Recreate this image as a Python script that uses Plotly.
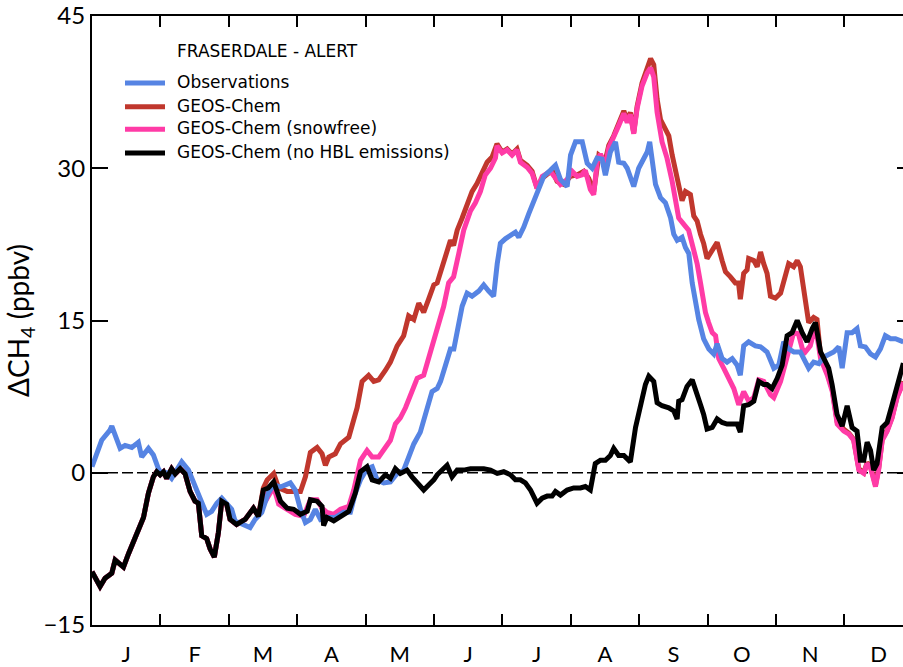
import plotly.graph_objects as go

# ---------------------------------------------------------------
# Daily CH4 enhancement, Fraserdale minus Alert (ppbv)
# x values are day of year; months are drawn as 12 equal bins
# ---------------------------------------------------------------
DAYS_PER_MONTH = 365.0 / 12.0
month_labels = ["J", "F", "M", "A", "M", "J", "J", "A", "S", "O", "N", "D"]
y_ticks = [-15, 0, 15, 30, 45]

# Observations
obs_day = [0, 4.3, 8.0, 8.8, 12.5, 14.7, 17.7, 20.6, 22.1, 25.1, 27.3, 29.5, 31.0, 33.1,
           35.4, 37.5, 39.9, 42.9, 45.8, 48.8, 51.0, 53.2, 55.5, 57.7, 59.9, 62.1, 63.6,
           66.6, 70.3, 72.5, 75.5, 78.4, 80.8, 83.8, 88.2, 90.4, 92.7, 94.9, 97.1, 99.3,
           101.6, 104.5, 108.2, 111.9, 114.9, 117.1, 119.4, 122.3, 124.6, 126.8, 129.7,
           132.7, 135.7, 138.6, 140.8, 143.1, 146.0, 148.3, 149.7, 151.2, 153.5, 155.0,
           157.2, 159.4, 160.9, 163.1, 164.6, 166.8, 169.0, 172.0, 174.2, 176.4, 178.6,
           180.2, 181.6, 183.8, 186.1, 188.3, 189.8, 192.0, 194.2, 196.4, 198.6, 200.9,
           203.8, 206.1, 208.3, 211.3, 212.8, 215.0, 218.0, 220.2, 222.4, 224.6, 226.8,
           228.3, 230.5, 232.8, 234.2, 236.5, 238.0, 239.4, 240.9, 243.1, 245.4, 246.9,
           248.0, 249.1, 250.6, 252.8, 255.0, 257.3, 258.7, 260.2, 262.4, 263.9, 265.4,
           266.9, 268.4, 269.8, 272.0, 274.3, 276.5, 278.0, 280.2, 282.4, 284.7, 286.9,
           288.3, 289.8, 292.0, 295.0, 297.3, 300.2, 303.2, 305.4, 307.6, 309.8, 312.1,
           315.0, 316.5, 318.7, 320.9, 323.2, 325.4, 327.6, 329.8, 332.1, 333.6, 335.8,
           338.0, 340.2, 341.7, 343.9, 346.2, 348.4, 350.6, 352.8, 355.1, 357.3, 359.5,
           360.8]
obs_val = [0.6, 3.2, 4.2, 4.6, 2.4, 2.7, 2.5, 3.0, 1.55, 2.4, 1.75, 0.4, -0.1, 0.0,
           -0.55, 0.2, 1.07, 0.26, -1.36, -3.0, -4.1, -3.8, -3.0, -2.5, -3.0, -3.6, -4.75,
           -5.1, -5.4, -4.6, -3.9, -2.0, -1.2, -1.4, -1.0, -1.7, -3.6, -4.9, -4.6, -3.6,
           -4.6, -4.4, -4.4, -3.9, -3.9, -2.0, -0.7, 0.4, 0.6, -0.7, -1.0,
           -0.9, -0.07, 0.26, 1.55, 2.84, 4.0, 5.75, 7.05, 8.0, 8.3, 9.0,
           10.6, 12.2, 12.2, 14.5, 16.4, 17.7, 17.4, 17.9, 18.5, 17.9, 17.4,
           20.6, 22.6, 23.05, 23.4, 23.7, 23.2, 24.2, 25.5, 26.8, 27.9, 29.2,
           29.8, 30.3, 28.9, 28.2, 31.3, 32.6, 32.6, 30.5, 30.0, 31.0, 30.9,
           29.3, 31.6, 32.6, 30.6, 30.5, 30.0, 29.0, 28.2, 30.0, 31.0, 31.6,
           32.6, 31.0, 28.4, 27.1, 26.6, 25.1, 23.5, 22.9, 23.2, 22.2, 21.6,
           18.7, 16.4, 15.1, 13.2, 12.2, 11.7, 12.7, 11.25, 10.9, 11.25, 10.6,
           9.6, 12.5, 12.9, 12.5, 12.4, 11.9, 10.3, 10.6, 12.9, 12.2, 11.9,
           11.9, 11.25, 10.3, 10.9, 10.75, 11.4, 11.7, 11.9, 12.4, 10.3, 13.8,
           13.8, 14.2, 12.5, 12.4, 11.7, 11.4, 12.2, 13.5, 13.2, 13.2, 13.0,
           12.9]

# Model runs coincide during winter (before snowmelt emissions start)
winter_day = [0, 3.6, 5.8, 8.8, 10.3, 14.0, 16.2, 19.2, 22.9, 25.1, 27.3, 28.8, 30.3,
              31.8, 33.2, 35.4, 37.0, 39.2, 41.4, 43.6, 45.8, 47.3, 48.8, 51.0, 52.5,
              54.4, 56.2, 57.7, 59.9, 61.4, 64.3, 68.1, 71.8, 74.0]
winter_val = [-9.76, -11.2, -10.4, -9.9, -8.6, -9.3, -8.0, -6.5, -4.4, -2.0, -0.4, 0.1,
              -0.2, 0.1, -0.55, 0.4, -0.1, 0.4, -0.1, -1.84, -2.8, -3.0, -6.2, -6.5, -7.5,
              -8.3, -5.9, -2.8, -3.1, -4.6, -5.1, -4.6, -3.5, -4.3]

# GEOS-Chem (standard)
gc_day = [76.2, 77.9, 80.8, 83.0, 86.8, 89.7, 92.7, 94.9, 97.1, 100.1, 102.3, 103.8,
          105.3, 108.2, 110.5, 114.2, 116.4, 117.9, 120.1, 123.0, 125.3, 127.5, 130.5,
          132.7, 135.7, 138.6, 140.8, 143.1, 145.3, 147.5, 149.7, 152.0, 153.5, 156.4,
          157.9, 159.4, 160.8, 162.4, 164.6, 166.8, 169.0, 171.2, 173.5, 175.7, 177.9,
          180.1, 182.4, 184.6, 186.8, 189.0, 190.5, 193.5, 195.7, 197.9, 200.2, 202.4,
          204.6, 206.8, 209.8, 212.7, 215.7, 218.7, 220.9, 223.1, 225.4, 228.3, 229.8,
          232.0, 234.2, 236.5, 238.0, 239.4, 240.9, 242.4, 244.6, 246.9, 248.4, 249.8,
          251.3, 252.8, 255.0, 256.5, 258.0, 259.4, 260.9, 262.4, 263.9, 266.1, 267.6,
          269.1, 270.6, 272.0, 273.5, 275.8, 278.0, 280.2, 281.7, 283.9, 286.1, 287.5,
          288.3, 289.8, 291.3, 292.0, 294.3, 295.8, 297.3, 298.7, 300.2, 301.7, 303.9,
          306.2, 308.4, 309.8, 312.0, 313.6, 315.0, 316.5, 318.7, 320.9, 322.4, 324.0,
          327.0, 329.2, 331.4, 334.3, 336.6, 338.7, 341.0, 343.2, 344.7, 346.2, 348.4,
          349.8, 351.4, 353.6, 355.8, 358.0, 360.3, 360.8]
gc_val = [-1.5, -0.7, -0.07, -1.5, -1.84, -1.84, -1.84, -0.4, 2.0, 2.5, 1.87, 0.74,
          1.55, 1.87, 2.84, 3.5, 5.1, 6.4, 9.0, 9.6, 9.0, 9.15, 10.1,
          10.9, 12.5, 13.5, 15.45, 15.1, 16.7, 15.8, 17.1, 18.5, 18.7, 20.9,
          22.1, 22.9, 22.4, 23.9, 25.1, 26.5, 27.7, 28.5, 29.7, 30.6, 31.1,
          32.4, 31.6, 31.9, 31.4, 31.9, 30.8, 30.3, 29.7, 28.05, 29.0, 29.35,
          29.8, 28.7, 28.4, 29.2, 29.35, 29.7, 29.0, 27.7, 31.3, 30.8, 32.25,
          33.2, 34.35, 35.65, 34.7, 35.5, 33.5, 36.1, 38.4, 40.0, 40.8, 40.2,
          36.8, 34.8, 33.9, 33.2, 31.3, 30.0, 28.7, 26.8, 27.7, 27.4, 25.3,
          24.8, 23.5, 22.6, 21.1, 21.9, 22.7, 20.9, 19.8, 19.3, 18.7, 18.7,
          17.1, 19.65, 20.0, 21.1, 20.9, 20.3, 21.75, 20.6, 19.65, 17.4, 17.2,
          17.7, 19.3, 20.6, 20.3, 20.9, 20.3, 17.7, 14.8, 15.3, 15.1, 11.5,
          9.8, 8.2, 5.0, 4.3, 3.9, 3.3, 0.4, 0.0, 1.0, 0.6, -1.2,
          0.4, 3.3, 4.2, 5.5, 7.5, 8.8, 9.0]

# GEOS-Chem (snowfree)
sf_day = [76.2, 77.9, 80.8, 83.0, 86.8, 90.4, 94.1, 97.1, 100.1, 102.3, 104.5, 107.5,
          110.5, 114.2, 116.4, 119.4, 122.3, 124.6, 127.5, 129.7, 132.7, 134.9, 137.1,
          139.4, 142.3, 144.6, 147.5, 149.7, 152.0, 153.5, 156.4, 158.6, 160.8, 163.1,
          165.3, 168.3, 170.5, 172.7, 174.9, 177.2, 179.4, 180.1, 182.4, 184.6, 186.8,
          189.0, 190.5, 193.5, 195.7, 197.9, 200.2, 203.8, 206.1, 208.3, 211.3, 213.5,
          215.7, 217.9, 219.4, 221.6, 223.1, 224.6, 226.1, 228.3, 229.8, 232.0, 234.2,
          236.5, 238.0, 239.4, 240.9, 242.4, 244.6, 246.9, 248.4, 249.8, 251.3, 253.5,
          255.7, 258.0, 259.4, 260.9, 263.1, 265.3, 267.6, 269.1, 270.6, 272.8, 274.2,
          275.8, 277.3, 278.7, 280.9, 283.1, 285.4, 287.6, 289.8, 292.0, 294.3, 296.5,
          298.7, 301.7, 303.2, 306.2, 309.1, 312.0, 314.1, 316.5, 319.4, 321.7, 324.0,
          327.0, 329.2, 331.4, 334.3, 336.6, 338.7, 341.0, 343.2, 344.7, 346.2, 348.4,
          349.8, 351.4, 353.6, 355.8, 358.0, 360.3, 360.8]
sf_val = [-2.0, -2.5, -1.4, -3.1, -3.6, -4.1, -4.3, -2.65, -2.65, -3.5, -3.9, -4.1,
          -3.6, -3.3, -1.7, 1.23, 2.2, 1.55, 1.55, 2.2, 3.2, 4.8, 5.4,
          6.4, 8.0, 9.3, 9.6, 11.25, 12.9, 13.8, 16.4, 18.7, 19.3, 21.6,
          23.9, 25.8, 26.6, 27.7, 29.35, 30.0, 31.0, 32.2, 31.5, 31.8, 31.3,
          31.8, 30.6, 30.1, 29.5, 28.0, 29.2, 29.7, 29.0, 28.4, 28.9, 29.7,
          29.2, 29.35, 29.8, 27.9, 27.4, 30.6, 31.4, 30.2, 32.0, 33.0, 34.2,
          35.4, 34.5, 35.3, 33.4, 35.9, 38.1, 39.4, 39.9, 39.0, 35.5, 32.6,
          31.0, 28.7, 26.8, 25.1, 24.5, 23.9, 21.9, 20.6, 18.7, 15.8, 14.8,
          13.8, 13.5, 11.25, 10.3, 9.3, 8.3, 6.7, 8.0, 7.05, 7.4, 9.15,
          9.0, 7.7, 7.4, 9.0, 11.25, 13.8, 13.7, 11.7, 12.5, 14.5, 11.25,
          9.6, 8.0, 4.8, 4.1, 3.8, 3.2, 0.26, -0.07, 0.9, 0.5, -1.36,
          0.26, 3.2, 4.1, 5.4, 7.4, 8.7, 8.9]

# GEOS-Chem (no HBL emissions)
nohbl_day = [76.2, 78.4, 80.8, 83.8, 86.8, 89.7, 92.7, 95.7, 97.1, 100.1, 102.3, 103.0,
             104.5, 107.5, 110.5, 114.2, 117.1, 119.4, 122.3, 124.6, 127.5, 130.5, 132.7,
             134.9, 137.1, 140.1, 142.3, 144.6, 147.5, 149.7, 152.0, 153.5, 156.4, 157.9,
             160.1, 162.4, 165.3, 168.3, 174.2, 177.2, 180.2, 183.1, 186.1, 188.3, 190.5,
             192.7, 195.0, 197.9, 200.2, 202.4, 204.6, 206.1, 208.3, 211.3, 214.2, 217.2,
             219.4, 221.6, 223.8, 226.1, 228.3, 230.5, 232.0, 234.2, 236.5, 239.4, 241.7,
             243.9, 246.1, 247.6, 249.8, 251.3, 253.5, 256.5, 258.7, 260.2, 260.9, 262.4,
             264.6, 266.9, 269.1, 270.6, 272.0, 273.5, 275.8, 278.0, 280.2, 282.4, 286.9,
             288.3, 289.8, 292.0, 294.3, 296.5, 298.7, 300.2, 302.4, 304.7, 306.9, 309.1,
             311.3, 313.6, 315.8, 318.0, 320.3, 321.7, 324.0, 325.4, 327.6, 329.1, 331.3,
             333.6, 335.8, 338.0, 340.2, 341.7, 343.2, 344.7, 346.2, 347.6, 349.1, 351.4,
             353.6, 355.8, 358.0, 360.3, 360.8]
nohbl_val = [-1.7, -1.5, -0.9, -2.8, -3.5, -3.6, -4.1, -3.8, -2.65, -2.8, -3.3, -5.2,
             -4.4, -4.75, -4.3, -3.8, -2.0, 0.1, 0.6, -0.7, -0.9, -0.2, -0.55,
             0.4, -0.07, 0.26, -0.4, -1.0, -1.7, -1.2, -0.7, -0.2, 0.4, 0.74,
             -0.4, 0.26, 0.26, 0.4, 0.4, 0.26, -0.07, 0.1, -0.2, -0.7, -0.7,
             -1.0, -1.7, -3.0, -2.5, -2.3, -2.3, -1.84, -2.2, -1.7, -1.5, -1.5,
             -1.36, -1.7, 0.9, 1.23, 1.23, 1.7, 2.4, 1.7, 1.7, 1.07, 4.46,
             6.7, 8.7, 9.5, 9.0, 6.9, 6.6, 6.4, 6.1, 5.3, 7.05, 7.2,
             8.5, 9.15, 7.85, 6.7, 5.75, 4.3, 4.46, 5.3, 4.95, 4.8, 4.8,
             4.0, 6.6, 6.7, 7.05, 9.0, 8.7, 8.7, 8.3, 9.3, 10.6, 13.5,
             13.8, 15.0, 13.8, 12.9, 14.2, 14.8, 11.9, 11.25, 10.3, 8.7, 5.75,
             4.6, 6.6, 4.46, 4.1, 1.23, 1.23, 3.0, 2.2, 0.26, 0.9, 4.46,
             4.95, 6.7, 8.7, 10.6, 10.8]

series = [
    # name, days, values, colour, y-axis
    ("GEOS-Chem", winter_day + gc_day, winter_val + gc_val, "#c0372d", "y"),
    ("GEOS-Chem (snowfree)", winter_day + sf_day, winter_val + sf_val, "#ff3ba6", "y"),
    ("Observations", obs_day, obs_val, "#5684e3", "y"),
    ("GEOS-Chem (no HBL emissions)", winter_day + nohbl_day, winter_val + nohbl_val,
     "#000000", "y2"),
]

fig = go.Figure()
for name, d, v, col, ax in series:
    fig.add_trace(go.Scatter(x=d, y=v, mode="lines", name=name, yaxis=ax,
                             line=dict(color=col, width=5), showlegend=False))

# ---- layout geometry (pixels) ----
W, H = 903, 667
L, R, T, B = 92, 0, 12, 37
PW, PH = W - L - R, H - T - B
PX_PER_MONTH = 68.4
x_max = PW / PX_PER_MONTH * DAYS_PER_MONTH

month_edges = [i * DAYS_PER_MONTH for i in range(1, 12)]
month_mid = [(i + 0.5) * DAYS_PER_MONTH for i in range(12)]

FONT = "Lato"
LEG_FONT = "DejaVu Sans"

fig.update_layout(
    width=W, height=H,
    margin=dict(l=L, r=R, t=T, b=B),
    paper_bgcolor="white", plot_bgcolor="rgba(0,0,0,0)",
    xaxis=dict(
        range=[0, x_max], showgrid=False, zeroline=False,
        tickvals=month_mid, ticktext=month_labels, ticks="",
        tickfont=dict(family=FONT, size=22, color="black"),
        ticklabelstandoff=9,
        showline=True, linecolor="black", linewidth=2, mirror="ticks",
        minor=dict(tickvals=month_edges, ticks="inside", ticklen=11,
                   tickwidth=2, tickcolor="black"),
    ),
    yaxis=dict(
        range=[-15, 45], tickvals=y_ticks, ticks="inside", ticklen=16,
        tickwidth=2, tickcolor="black", showgrid=False, zeroline=False,
        showline=True, linecolor="black", linewidth=2,
        ticklabeloverflow="allow",
        tickfont=dict(family=FONT, size=24, color="black"),
        title=dict(text="ΔCH<sub>4</sub> (ppbv)", standoff=6,
                   font=dict(family=FONT, size=28, color="black")),
    ),
    yaxis2=dict(
        range=[-15, 45], matches="y", overlaying="y", side="right",
        tickvals=y_ticks, ticks="inside", ticklen=6, tickwidth=2,
        tickcolor="black", showticklabels=False, showgrid=False,
        zeroline=False, showline=False,
    ),
)

# dashed zero reference line
fig.add_shape(type="line", xref="paper", yref="y", x0=0, x1=1, y0=0, y1=0,
              line=dict(color="black", width=1.6, dash="11px,4px"), layer="below")


def paper_x(px):
    return (px - L) / PW


def paper_y(py):
    return (H - B - py) / PH


# legend block
fig.add_annotation(text="FRASERDALE - ALERT", xref="paper", yref="paper",
                   x=paper_x(175), y=paper_y(48), xanchor="left", yanchor="middle",
                   showarrow=False, font=dict(family=LEG_FONT, size=17, color="black"))
legend_rows = [("Observations", "#5684e3", 80),
               ("GEOS-Chem", "#c0372d", 104),
               ("GEOS-Chem (snowfree)", "#ff3ba6", 127),
               ("GEOS-Chem (no HBL emissions)", "#000000", 151)]
for label, col, py in legend_rows:
    fig.add_shape(type="line", xref="paper", yref="paper",
                  x0=paper_x(125), x1=paper_x(165), y0=paper_y(py), y1=paper_y(py),
                  line=dict(color=col, width=5))
    fig.add_annotation(text=label, xref="paper", yref="paper",
                       x=paper_x(175), y=paper_y(py - 1), xanchor="left",
                       yanchor="middle", showarrow=False,
                       font=dict(family=LEG_FONT, size=17, color="black"))

fig.write_html("out.html")
